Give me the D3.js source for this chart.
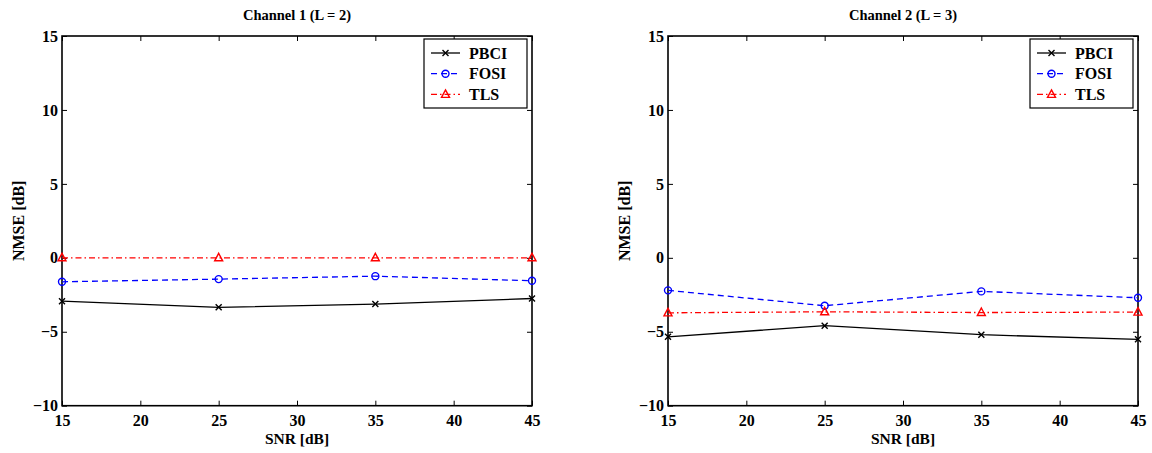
<!DOCTYPE html>
<html>
<head>
<meta charset="utf-8">
<script src="https://cdn.jsdelivr.net/npm/d3@7"></script>
<style>
body { margin: 0; background: #fff; }
svg text { font-family: "Liberation Serif", "Times New Roman", serif; font-weight: bold; }
</style>
</head>
<body>
<script>
var w = 1152;
var h = 453;

// SNR points, shared by both panels
var snr = [15, 25, 35, 45];
var xTicks = [15, 20, 25, 30, 35, 40, 45];
var yTicks = [-10, -5, 0, 5, 10, 15];

// Channel 1 (L = 2)
var ch1Pbci = [-2.93, -3.35, -3.13, -2.75];
var ch1Fosi = [-1.62, -1.44, -1.24, -1.55];
var ch1Tls = [0, 0, 0, 0];

// Channel 2 (L = 3)
var ch2Pbci = [-5.34, -4.59, -5.2, -5.51];
var ch2Fosi = [-2.2, -3.24, -2.27, -2.7];
var ch2Tls = [-3.72, -3.65, -3.7, -3.67];

var seriesNames = ["PBCI", "FOSI", "TLS"];

var panels = [
    { title: "Channel 1 (L = 2)", left: 62, series: [ch1Pbci, ch1Fosi, ch1Tls] },
    { title: "Channel 2 (L = 3)", left: 668, series: [ch2Pbci, ch2Fosi, ch2Tls] }
];

var styles = [
    { color: "#000", dash: null, marker: "x" },
    { color: "#0000ff", dash: "6,4", marker: "o" },
    { color: "#ff0000", dash: "6,3,1.5,3", marker: "tri" }
];

var serif = "'Liberation Serif', 'Times New Roman', serif";
var pw = 470, plotTop = 36, plotBottom = 405.7;

var svg = d3.select("body").append("svg")
    .attr("width", w)
    .attr("height", h);

function drawMarker(g, type, x, y, color) {
    if (type === "x") {
        g.append("path")
            .attr("d", "M" + (x - 3) + "," + (y - 3) + "L" + (x + 3) + "," + (y + 3) +
                "M" + (x - 3) + "," + (y + 3) + "L" + (x + 3) + "," + (y - 3))
            .attr("stroke", color).attr("stroke-width", 1.4).attr("fill", "none");
    } else if (type === "o") {
        g.append("circle").attr("cx", x).attr("cy", y).attr("r", 3.5)
            .attr("stroke", color).attr("stroke-width", 1.4).attr("fill", "none");
    } else {
        g.append("path")
            .attr("d", "M" + x + "," + (y - 4.5) + "L" + (x + 4) + "," + (y + 3) + "L" + (x - 4) + "," + (y + 3) + "Z")
            .attr("stroke", color).attr("stroke-width", 1.4).attr("fill", "none");
    }
}

panels.forEach(function(p) {
    var xScale = d3.scaleLinear().domain([15, 45]).range([p.left, p.left + pw]);
    var yScale = d3.scaleLinear().domain([-10, 15]).range([plotBottom, plotTop]);
    var g = svg.append("g");

    // mirrored inward ticks
    g.append("g").attr("transform", "translate(0," + plotBottom + ")")
        .call(d3.axisBottom(xScale).tickValues(xTicks).tickSizeInner(-5).tickSizeOuter(0).tickPadding(9)
            .tickFormat(d3.format("d")));
    g.append("g").attr("transform", "translate(0," + plotTop + ")")
        .call(d3.axisTop(xScale).tickValues(xTicks).tickSizeInner(-5).tickSizeOuter(0).tickFormat(""));
    g.append("g").attr("transform", "translate(" + p.left + ",0)")
        .call(d3.axisLeft(yScale).tickValues(yTicks).tickSizeInner(-5).tickSizeOuter(0).tickPadding(4)
            .tickFormat(function(d) { return d < 0 ? "\u2212" + Math.abs(d) : d; }));
    g.append("g").attr("transform", "translate(" + (p.left + pw) + ",0)")
        .call(d3.axisRight(yScale).tickValues(yTicks).tickSizeInner(-5).tickSizeOuter(0).tickFormat(""));

    g.selectAll(".domain").remove();
    g.selectAll(".tick line").attr("stroke", "#000").attr("stroke-width", 1);
    g.selectAll(".tick text")
        .style("font-family", serif).style("font-weight", "bold").style("font-size", "16px")
        .attr("fill", "#000");

    g.append("rect")
        .attr("x", p.left).attr("y", plotTop)
        .attr("width", pw).attr("height", plotBottom - plotTop)
        .attr("fill", "none").attr("stroke", "#000").attr("stroke-width", 1.6);

    p.series.forEach(function(vals, i) {
        var st = styles[i];
        var line = d3.line()
            .x(function(d, j) { return xScale(snr[j]); })
            .y(function(d) { return yScale(d); });
        g.append("path").datum(vals)
            .attr("d", line)
            .attr("fill", "none")
            .attr("stroke", st.color)
            .attr("stroke-width", 1.3)
            .attr("stroke-dasharray", st.dash);
        vals.forEach(function(v, j) {
            drawMarker(g, st.marker, xScale(snr[j]), yScale(v), st.color);
        });
    });

    // title and axis labels
    g.append("text").attr("x", p.left + pw / 2).attr("y", 20)
        .attr("text-anchor", "middle").attr("font-size", 14.5).text(p.title);
    g.append("text").attr("x", p.left + pw / 2).attr("y", 444)
        .attr("text-anchor", "middle").attr("font-size", 15.5).text("SNR [dB]");
    g.append("text").attr("transform", "rotate(-90)")
        .attr("x", -(plotTop + plotBottom) / 2).attr("y", p.left - 38)
        .attr("text-anchor", "middle").attr("font-size", 16).text("NMSE [dB]");

    // legend
    var lx = p.left + pw - 108, ly = 39;
    var leg = g.append("g");
    leg.append("rect").attr("x", lx).attr("y", ly).attr("width", 103).attr("height", 69)
        .attr("fill", "#fff").attr("stroke", "#000").attr("stroke-width", 1.2);
    seriesNames.forEach(function(name, i) {
        var st = styles[i];
        var yy = ly + 14 + i * 20.7;
        leg.append("line").attr("x1", lx + 7).attr("x2", lx + 36).attr("y1", yy).attr("y2", yy)
            .attr("stroke", st.color).attr("stroke-width", 1.3).attr("stroke-dasharray", st.dash);
        drawMarker(leg, st.marker, lx + 21.5, yy, st.color);
        leg.append("text").attr("x", lx + 45).attr("y", yy + 5.5)
            .attr("font-size", 16).text(name);
    });
});
</script>
</body>
</html>
